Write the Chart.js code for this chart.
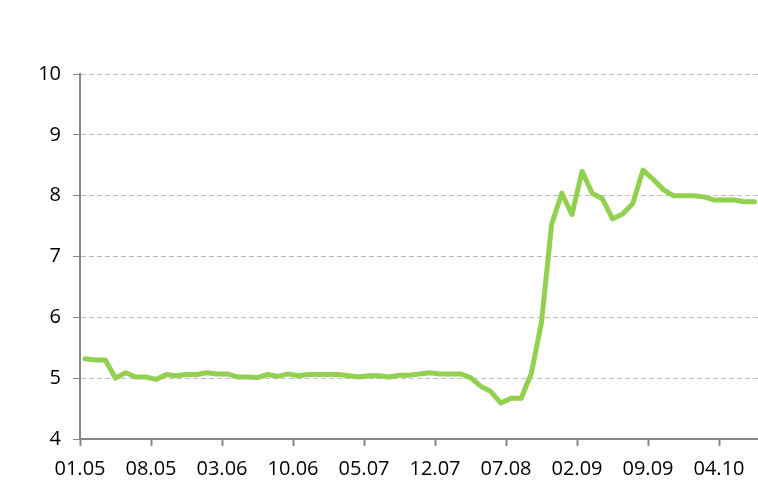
<!DOCTYPE html>
<html>
<head>
<meta charset="utf-8">
<script src="https://cdn.jsdelivr.net/npm/chart.js@4"></script>
<style>
  html, body { margin: 0; padding: 0; background: #fff; overflow: hidden; }
  #wrap { width: 801px; height: 487px; }
</style>
</head>
<body>
<div id="wrap"><canvas id="chart" width="801" height="487"></canvas></div>
<script>
// tick labels, one every 7 observations
const tickLabels = ['01.05', '08.05', '03.06', '10.06', '05.07', '12.07', '07.08', '02.09', '09.09', '04.10'];
const tickEvery = 7;

// series values
const values = [
  5.32, 5.30, 5.30, 5.00, 5.09, 5.02, 5.02, 4.98, 5.06, 5.04,
  5.06, 5.06, 5.09, 5.07, 5.07, 5.02, 5.02, 5.01, 5.06, 5.03,
  5.07, 5.04, 5.06, 5.06, 5.06, 5.06, 5.04, 5.02, 5.04, 5.04,
  5.02, 5.05, 5.05, 5.07, 5.09, 5.07, 5.07, 5.07, 5.01, 4.87,
  4.78, 4.59, 4.67, 4.67, 5.08, 5.92, 7.53, 8.04, 7.69, 8.40,
  8.04, 7.95, 7.62, 7.70, 7.87, 8.42, 8.27, 8.10, 8.00, 8.00,
  8.00, 7.98, 7.93, 7.93, 7.93, 7.90, 7.90
];

// each observation sits in the middle of its slot
const categories = values.map((v, i) => i + 0.5);

const axisGray = '#868686';
const font = { family: 'Open Sans', size: 20 };

new Chart(document.getElementById('chart').getContext('2d'), {
  type: 'line',
  data: {
    datasets: [{
      data: values.map((v, i) => ({ x: categories[i], y: v })),
      borderColor: '#92D050',
      borderWidth: 5,
      pointRadius: 0,
      tension: 0,
      borderJoinStyle: 'round',
      borderCapStyle: 'round'
    }]
  },
  options: {
    responsive: false,
    animation: false,
    layout: { padding: { top: 74, left: 0, right: 0, bottom: 0 } },
    plugins: { legend: { display: false }, tooltip: { enabled: false } },
    scales: {
      x: {
        type: 'linear',
        min: 0,
        max: tickLabels.length * tickEvery,
        afterFit: (scale) => { scale.height = 48; },
        ticks: {
          stepSize: tickEvery,
          autoSkip: false,
          maxRotation: 0,
          padding: 11,
          color: '#000',
          font: font,
          callback: (v) => tickLabels[v / tickEvery] ?? ''
        },
        grid: { drawOnChartArea: false, tickLength: 7, tickColor: axisGray, tickWidth: 2 },
        border: { color: axisGray, width: 2 }
      },
      y: {
        min: 4,
        max: 10,
        afterFit: (scale) => { scale.width = 80; },
        ticks: { stepSize: 1, padding: 12, color: '#000', font: font },
        grid: {
          color: '#BFBFBF',
          lineWidth: 1,
          tickLength: 7,
          tickColor: axisGray,
          tickBorderDash: [],
          tickWidth: 1
        },
        border: { color: axisGray, width: 2, dash: [5, 3] }
      }
    }
  }
});
</script>
</body>
</html>
